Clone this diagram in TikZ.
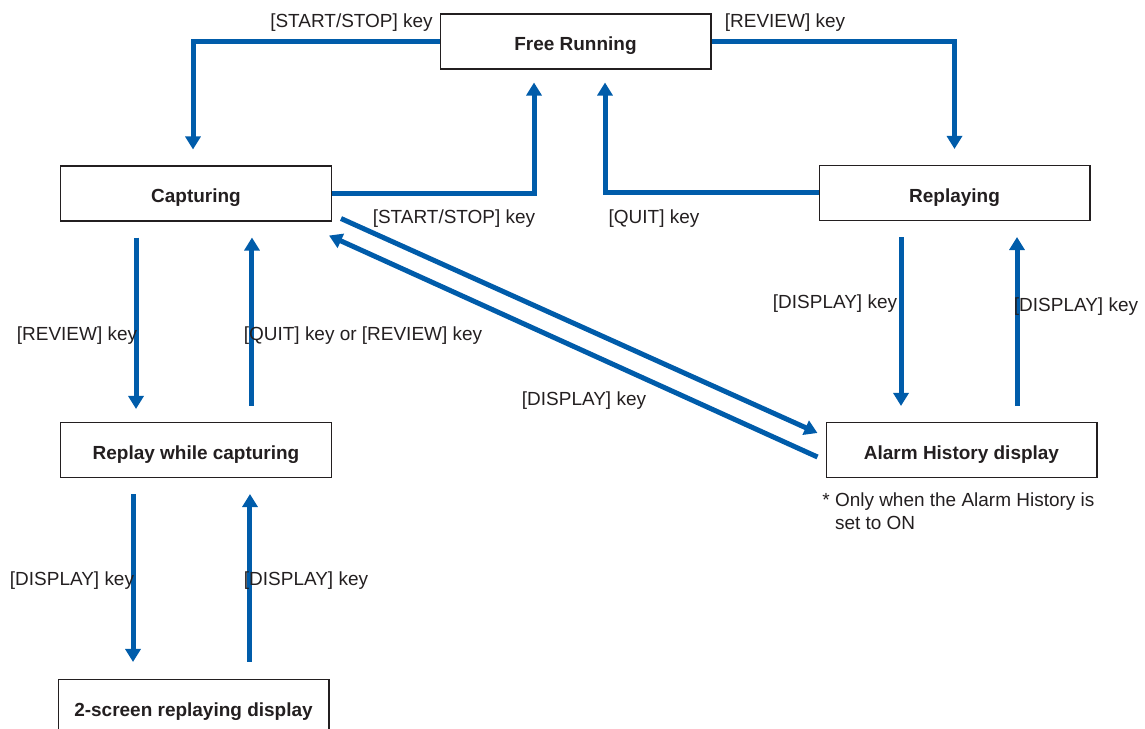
\documentclass[tikz,border=0pt]{standalone}
\usepackage{fontspec}
\setmainfont{Liberation Sans}
\usetikzlibrary{positioning, arrows.meta}
\definecolor{keyblue}{RGB}{0,92,170}
\definecolor{inkgray}{RGB}{35,31,32}

\begin{document}
\begin{tikzpicture}[
    x=0.02cm, y=-0.02cm,
    block/.style={rectangle, draw=inkgray, line width=0.6pt, minimum height=1.1cm, minimum width=5.42cm, align=center, text height=10.4pt, text depth=0pt, font=\fontsize{10.8}{13}\selectfont\bfseries, text=inkgray},
    arr/.style={-{Triangle[length=0.26cm, width=0.3cm]}, line width=0.1cm, draw=keyblue},
    lbl/.style={font=\fontsize{10.8}{13}\selectfont, text=inkgray, inner sep=0pt, yshift=-0.05cm},
]
\useasboundingbox (0,0) rectangle (1145,729);
\clip (0,0) rectangle (1145,729);

\node[block] (free) at (575.5,41.5) {Free Running};
\node[block] (capt) at (196,193.5) {Capturing};
\node[block] (repl) at (954.5,193) {Replaying};
\node[block] (rwc) at (196,450) {Replay while capturing};
\node[block] (alarm) at (961.5,450) {Alarm History display};
\node[block] (twoscr) at (193.5,707) {2-screen replaying display};

% top loop
\draw[arr, shorten >=0.32cm] (free.west) -| ([xshift=-0.06cm]capt.north);
\draw[arr, shorten >=0.32cm] (free.east) -| (repl.north);
\draw[arr, shorten >=0.26cm] (capt.east) -| ([xshift=-0.83cm]free.south);
\draw[arr, shorten >=0.26cm] (repl.west) -| ([xshift=0.59cm]free.south);

% vertical pairs
\draw[arr, shorten <=0.32cm, shorten >=0.26cm] ([xshift=-1.2cm]capt.south) -- ([xshift=-1.2cm]rwc.north);
\draw[arr, shorten <=0.32cm, shorten >=0.32cm] ([xshift=1.12cm]rwc.north) -- ([xshift=1.12cm]capt.south);
\draw[arr, shorten <=0.32cm, shorten >=0.32cm] ([xshift=-1.07cm]repl.south) -- ([xshift=-1.07cm]repl.south |- alarm.north);
\draw[arr, shorten <=0.32cm, shorten >=0.32cm] ([xshift=1.25cm]repl.south |- alarm.north) -- ([xshift=1.25cm]repl.south);
\draw[arr, shorten <=0.32cm, shorten >=0.34cm] ([xshift=-1.26cm]rwc.south) -- ([xshift=-1.26cm]rwc.south |- twoscr.north);
\draw[arr, shorten <=0.34cm, shorten >=0.32cm] ([xshift=1.08cm]rwc.south |- twoscr.north) -- ([xshift=1.08cm]rwc.south);

% diagonal pair
\draw[arr] ([xshift=0.18cm, yshift=0.06cm]capt.south east) -- ([xshift=-0.16cm, yshift=0.34cm]alarm.west);
\draw[arr] ([xshift=-0.16cm, yshift=-0.14cm]alarm.west) -- ([xshift=-0.06cm, yshift=-0.28cm]capt.south east);

% key labels
\node[lbl] (lbstart) at (351.5,20) {[START/STOP] key};
\node[lbl] (lbreview) at (785,20) {[REVIEW] key};
\node[lbl] (lbstop) at (454,216) {[START/STOP] key};
\node[lbl] (lbquit) at (654,216) {[QUIT] key};
\node[lbl] (lbrevdown) at (77,333) {[REVIEW] key};
\node[lbl] (lbquitrev) at (363,333) {[QUIT] key or [REVIEW] key};
\node[lbl] (lbdispa) at (835,301) {[DISPLAY] key};
\node[lbl] (lbdispb) at (1076,304) {[DISPLAY] key};
\node[lbl] (lbdispc) at (584,398) {[DISPLAY] key};
\node[lbl] (lbdispd) at (72,578) {[DISPLAY] key};
\node[lbl] (lbdispe) at (306,578) {[DISPLAY] key};
\node[lbl, anchor=north west, align=left] (note) at (822,490) {*\ Only when the Alarm History is\\\hphantom{*\ }set to ON};

\end{tikzpicture}
\end{document}
